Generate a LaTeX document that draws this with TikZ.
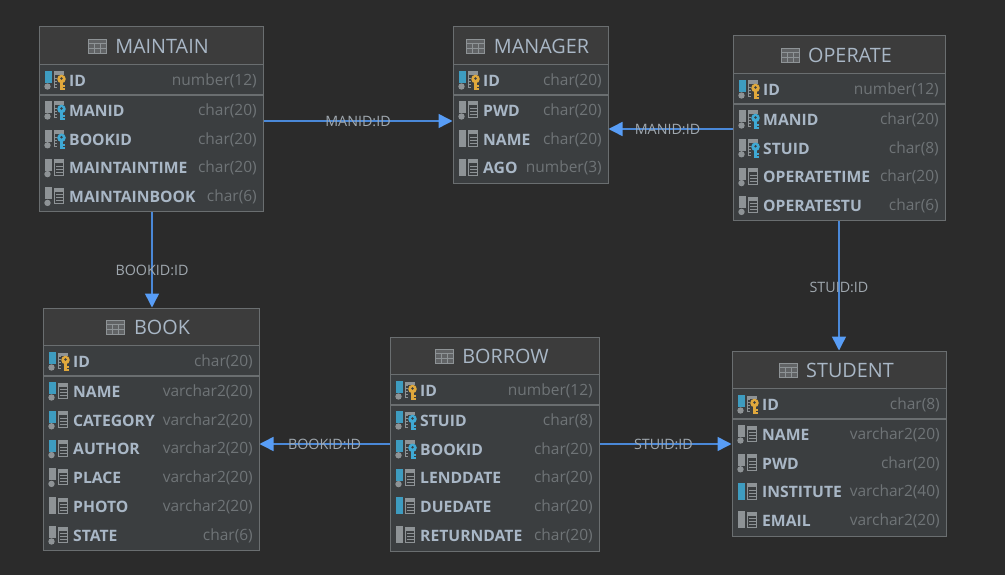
\documentclass[tikz,border=0pt]{standalone}
\usepackage{fontspec}
\setmainfont{Open Sans}
\usetikzlibrary{arrows.meta,fit,positioning}

\definecolor{canvasbg}{HTML}{2B2B2B}
\definecolor{boxbody}{HTML}{3B3E40}
\definecolor{boxhead}{HTML}{3C3C3C}
\definecolor{boxline}{HTML}{6A6E70}
\definecolor{nametext}{HTML}{A9B7C6}
\definecolor{typetext}{HTML}{6F7477}
\definecolor{linkblue}{HTML}{4A88D8}
\definecolor{tipblue}{HTML}{589DF6}
\definecolor{linktext}{HTML}{A0A8AF}
\definecolor{barblue}{HTML}{3E9CC0}
\definecolor{bargray}{HTML}{8E9396}
\definecolor{keygold}{HTML}{E0A83C}
\definecolor{keyblue}{HTML}{3FA9D4}

\tikzset{
    erbox/.style={draw=boxline, fill=boxbody, line width=1pt, inner sep=0pt},
    boxtitle/.style={text=nametext, font=\fontsize{19.8}{22}\selectfont, inner sep=0pt},
    colname/.style={text=nametext, font=\fontsize{15.7}{17}\selectfont\bfseries, anchor=west, inner sep=0pt},
    coltype/.style={text=typetext, font=\fontsize{15.5}{17}\selectfont, anchor=east, inner sep=0pt},
    fklink/.style={draw=linkblue, line width=1.5pt, -{Triangle[length=14pt,width=14pt,color=tipblue]}},
    linklabel/.style={text=linktext, font=\fontsize{14.3}{17}\selectfont, inner sep=0pt},
}

\def\nokey{none}

% name, left, top, right, bottom, title, rows
\newcommand{\ertable}[7]{
    \node[erbox, fit={(#2,#3) (#4,#5)}] (#1) {};
    \fill[boxhead] (#2+0.5,#3+0.5) rectangle (#4-0.5,#3+37);
    \draw[boxline] (#2,#3+37) -- (#4,#3+37);
    \draw[boxline, line width=2pt] (#2,#3+68) -- (#4,#3+68);
    \node[boxtitle] (#1-title) at ({(#2+#4)/2+11},#3+19) {#6};
    \begin{scope}[shift={(#1-title.west)}]
        \draw[bargray, fill=bargray!45!boxhead, line width=0.8pt] (-27,-7) rectangle (-9,7);
        \draw[bargray, line width=0.8pt] (-27,-2.5) -- (-9,-2.5) (-27,2.5) -- (-9,2.5) (-21,-2.5) -- (-21,7) (-15,-2.5) -- (-15,7);
    \end{scope}
    \foreach \rowname/\rowtype/\rowbar/\rowdot/\rowkey [count=\i] in {#7} {
        \ifnum\i=1 \pgfmathsetmacro{\rowy}{#3+53.7}\else \pgfmathsetmacro{\rowy}{#3+83.7+(\i-2)*28.8}\fi
        \node[colname] (#1-name\i) at (#2+30,\rowy) {\rowname};
        \node[coltype] (#1-type\i) at (#4-6,\rowy) {\rowtype};
        % column icon
        \begin{scope}[shift={(#2,\rowy-0.7)}]
            \draw[bargray, line width=1pt] (15,-8) rectangle (24.5,7.5);
            \fill[bargray] (14.5,-8.5) rectangle (25,-4.5);
            \foreach \linej in {-1.5,1.5,4.5} {\draw[bargray, line width=1pt] (17,\linej) -- (24,\linej);}
            \ifnum\rowdot=1
                \fill[\rowbar] (6,-9) rectangle (13,3);
                \fill[bargray] (8.5,6.5) circle (3.2);
            \else
                \fill[\rowbar] (6,-9) rectangle (13,8);
            \fi
            \ifx\rowkey\nokey\else
                \fill[boxbody] (17.5,-5) rectangle (27.5,10.5);
                \foreach \linej in {-1.5,1.5,4.5} {\draw[bargray, line width=1pt] (15.5,\linej) -- (18,\linej);}
                \fill[\rowkey] (22.5,-1) circle (4.3);
                \fill[\rowkey] (21,2) rectangle (24,10);
                \fill[\rowkey] (23.5,5) rectangle (26,7);
                \fill[\rowkey] (23.5,8) rectangle (26,10);
                \fill[boxbody] (22.5,-1.5) circle (1.3);
            \fi
        \end{scope}
    }
}

\begin{document}
\begin{tikzpicture}[x=1pt,y=-1pt]
    \useasboundingbox[fill=canvasbg] (0,0) rectangle (1005,575);

    \ertable{maintain}{39}{27}{263}{212}{MAINTAIN}{
        ID/number(12)/barblue/1/keygold,
        MANID/char(20)/bargray/1/keyblue,
        BOOKID/char(20)/bargray/1/keyblue,
        MAINTAINTIME/char(20)/bargray/1/none,
        MAINTAINBOOK/char(6)/bargray/1/none}
    \ertable{manager}{453}{27}{608}{184}{MANAGER}{
        ID/char(20)/barblue/1/keygold,
        PWD/char(20)/bargray/1/none,
        NAME/char(20)/bargray/0/none,
        AGO/number(3)/bargray/0/none}
    \ertable{operate}{733}{36}{945}{221}{OPERATE}{
        ID/number(12)/barblue/1/keygold,
        MANID/char(20)/bargray/1/keyblue,
        STUID/char(8)/bargray/1/keyblue,
        OPERATETIME/char(20)/bargray/1/none,
        OPERATESTU/char(6)/bargray/1/none}
    \ertable{book}{43}{308}{259}{550}{BOOK}{
        ID/char(20)/barblue/1/keygold,
        NAME/varchar2(20)/barblue/1/none,
        CATEGORY/varchar2(20)/barblue/1/none,
        AUTHOR/varchar2(20)/barblue/1/none,
        PLACE/varchar2(20)/bargray/1/none,
        PHOTO/varchar2(20)/bargray/0/none,
        STATE/char(6)/bargray/1/none}
    \ertable{borrow}{390}{337}{599}{551}{BORROW}{
        ID/number(12)/barblue/1/keygold,
        STUID/char(8)/barblue/1/keyblue,
        BOOKID/char(20)/barblue/1/keyblue,
        LENDDATE/char(20)/barblue/1/none,
        DUEDATE/char(20)/barblue/0/none,
        RETURNDATE/char(20)/bargray/0/none}
    \ertable{student}{732}{351}{946}{536}{STUDENT}{
        ID/char(8)/barblue/1/keygold,
        NAME/varchar2(20)/bargray/1/none,
        PWD/char(20)/bargray/1/none,
        INSTITUTE/varchar2(40)/barblue/0/none,
        EMAIL/varchar2(20)/bargray/0/none}

    % foreign keys
    \draw[fklink] (maintain.east |- 0,121) -- node[linklabel] {MANID:ID} (manager.west |- 0,121);
    \draw[fklink] (operate.west |- 0,129) -- node[linklabel, xshift=-3pt] {MANID:ID} (manager.east |- 0,129);
    \draw[fklink] (maintain.south -| 152,0) -- node[linklabel, yshift=-10pt] {BOOKID:ID} (book.north -| 152,0);
    \draw[fklink] (operate.south -| 839,0) -- node[linklabel, yshift=-1pt] {STUID:ID} (student.north -| 839,0);
    \draw[fklink] (borrow.west |- 0,444) -- node[linklabel] {BOOKID:ID} (book.east |- 0,444);
    \draw[fklink] (borrow.east |- 0,444) -- node[linklabel, xshift=-2pt] {STUID:ID} (student.west |- 0,444);
\end{tikzpicture}
\end{document}
